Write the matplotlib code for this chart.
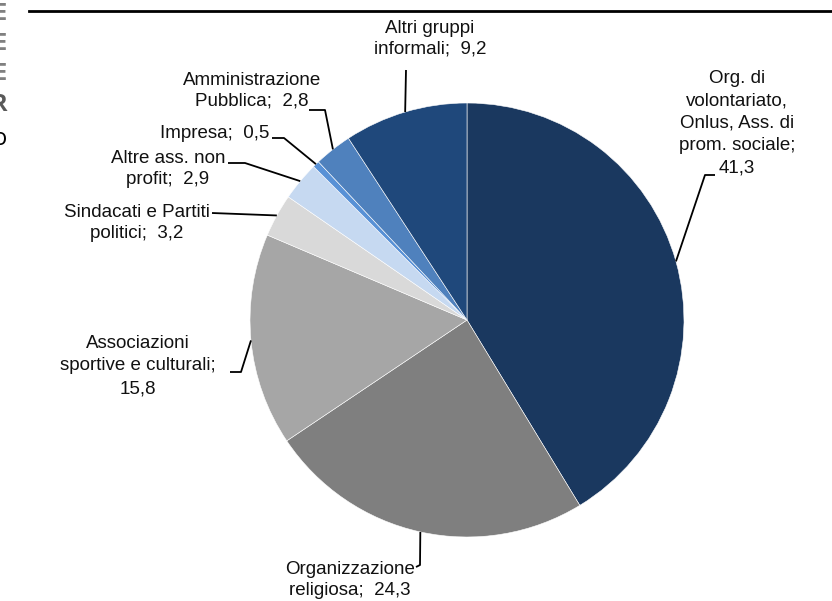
import numpy as np
import matplotlib.pyplot as plt

# ---------------------------------------------------------------------
# DATA
# ---------------------------------------------------------------------

labels = [
    "Org. di\nvolontariato,\nOnlus, Ass. di\nprom. sociale;\n41,3",
    "Organizzazione\nreligiosa;  24,3",
    "Associazioni\nsportive e culturali;\n15,8",
    "Sindacati e Partiti\npolitici;  3,2",
    "Altre ass. non\nprofit;  2,9",
    "Impresa;  0,5",
    "Amministrazione\nPubblica;  2,8",
    "Altri gruppi\ninformali;  9,2",
]
values = [41.3, 24.3, 15.8, 3.2, 2.9, 0.5, 2.8, 9.2]
colors = ["#1a385f", "#7f7f7f", "#a6a6a6", "#d9d9d9",
          "#c6d9f1", "#5891d6", "#4f81bd", "#1f487b"]

# ---------------------------------------------------------------------
# LAYOUT (pixel coordinates, y measured from top)
# ---------------------------------------------------------------------

W, H = 832, 601
center_px = (467, 320)
radius = 217

# text centre, line spacing and text-side points of each leader line
label_pos = [(737, 123), (350, 580), (138, 366), (137, 223),
             (168, 169), (215, 133), (252, 91), (430, 39)]
label_ls = [1.42, 1.3, 1.45, 1.3, 1.3, 1.3, 1.3, 1.3]
leader_pts = [
    [(715, 175), (705, 175)],
    [(416, 567), (420, 565)],
    [(230, 372), (241, 372)],
    [(212, 213)],
    [(228, 163), (245, 163)],
    [(272, 138), (284, 138)],
    [(309, 110), (325, 110)],
    [(406, 70)],
]


def Y(y):
    return H - y


plt.rcParams["font.family"] = ["Liberation Sans", "DejaVu Sans"]

fig = plt.figure(figsize=(W / 100, H / 100), dpi=100)
ax = fig.add_axes([0, 0, 1, 1])

cx, cy = center_px[0], Y(center_px[1])
wedges, _ = ax.pie(
    values, colors=colors, startangle=90, counterclock=False,
    center=(cx, cy), radius=radius, frame=True,
    wedgeprops=dict(edgecolor="white", linewidth=0.4),
)
ax.set_xlim(0, W)
ax.set_ylim(0, H)
ax.set_aspect("equal")
ax.axis("off")

for w, lab, (tx, ty), ls, pts in zip(wedges, labels, label_pos,
                                     label_ls, leader_pts):
    mid = np.deg2rad((w.theta1 + w.theta2) / 2)
    ex, ey = cx + radius * np.cos(mid), cy + radius * np.sin(mid)
    xs = [p[0] for p in pts] + [ex]
    ys = [Y(p[1]) for p in pts] + [ey]
    ax.plot(xs, ys, color="black", lw=1.3, solid_capstyle="butt")
    ax.text(tx, Y(ty), lab, ha="center", va="center", fontsize=13.5,
            linespacing=ls, color="#111111")

# top rule and the clipped letters in the left margin
ax.plot([29, W], [Y(11), Y(11)], color="black", lw=2)
for ch, yy, col in [("E", 14, "#808080"), ("E", 44, "#808080"),
                    ("E", 74, "#808080"), ("R", 105, "#595959"),
                    ("o", 139, "black")]:
    ax.text(7, Y(yy), ch, ha="right", va="center", fontsize=17,
            color=col, fontweight="bold" if ch != "o" else "normal",
            family="Open Sans")

fig.savefig("out.png", dpi=100)
